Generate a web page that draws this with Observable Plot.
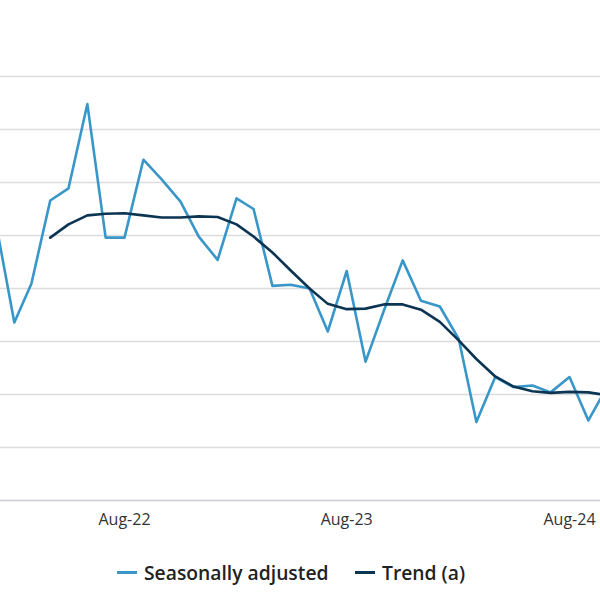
<!DOCTYPE html>
<html>
<head>
<meta charset="utf-8">
<script src="https://cdn.jsdelivr.net/npm/d3@7"></script>
<script src="https://cdn.jsdelivr.net/npm/@observablehq/plot@0.6"></script>
<style>
  html, body { margin: 0; padding: 0; background: #fff; }
  body { width: 600px; height: 600px; overflow: hidden; font-family: "Open Sans", sans-serif; }
  #legend { position: relative; height: 50px; font-size: 19.3px; font-weight: 600; color: #222; }
  .item { position: absolute; top: 14px; display: flex; align-items: center; white-space: nowrap; }
  .sw { display: inline-block; width: 20px; height: 3px; margin-right: 7px; }
</style>
</head>
<body>
<div id="chart"></div>
<div id="legend">
  <div class="item" style="left:117px"><span class="sw" style="background:#3896c8"></span>Seasonally adjusted</div>
  <div class="item" style="left:355px"><span class="sw" style="background:#0b3553"></span>Trend (a)</div>
</div>
<script>
const months = [
  "2022-01","2022-02","2022-03","2022-04","2022-05","2022-06","2022-07","2022-08","2022-09","2022-10","2022-11","2022-12",
  "2023-01","2023-02","2023-03","2023-04","2023-05","2023-06","2023-07","2023-08","2023-09","2023-10","2023-11","2023-12",
  "2024-01","2024-02","2024-03","2024-04","2024-05","2024-06","2024-07","2024-08","2024-09","2024-10"
];
const seasonallyAdjusted = [
  5.28,3.36,4.09,5.66,5.89,7.48,4.96,4.96,6.43,6.06,5.64,4.98,
  4.54,5.70,5.50,4.05,4.07,4.00,3.19,4.33,2.62,3.58,4.53,3.77,
  3.66,3.05,1.48,2.33,2.14,2.17,2.04,2.33,1.51,2.13
];
const trend = [
  null,null,null,4.96,5.21,5.38,5.41,5.42,5.38,5.34,5.34,5.36,
  5.35,5.21,4.98,4.68,4.34,4.00,3.71,3.61,3.62,3.70,3.70,3.60,
  3.37,3.02,2.67,2.34,2.15,2.06,2.03,2.05,2.04,1.99
];
const xTicks = ["2022-08","2023-08","2024-08"];
const yGrid = [1,2,3,4,5,6,7,8];

const parse = s => new Date(s + "-01T00:00:00Z");
const sa = months.map((m, i) => ({date: parse(m), value: seasonallyAdjusted[i]}));
const tr = months.map((m, i) => ({date: parse(m), value: trend[i]})).filter(d => d.value != null);

const chart = Plot.plot({
  width: 600,
  height: 545,
  marginLeft: 0,
  marginRight: 0,
  marginTop: 76,
  marginBottom: 45,
  style: {fontFamily: "Open Sans, sans-serif", fontSize: "16px", color: "#333", background: "#fff"},
  x: {type: "utc", domain: [new Date(Date.UTC(2022,0,9,7)), new Date(Date.UTC(2024,8,20,22))], range: [0, 600]},
  y: {domain: [0, 8]},
  marks: [
    Plot.gridY(yGrid, {stroke: "#dcdcdc", strokeOpacity: 1, strokeWidth: 1.3}),
    Plot.ruleY([0], {stroke: "#c9ccd1", strokeWidth: 1.5}),
    Plot.axisX(xTicks.map(parse), {tickSize: 0, tickPadding: 13, tickFormat: d3.utcFormat("%b-%y"), label: null, fill: "#333"}),
    Plot.axisY({ticks: [], label: null}),
    Plot.line(sa, {x: "date", y: "value", stroke: "#3896c8", strokeWidth: 2.6, clip: true}),
    Plot.line(tr, {x: "date", y: "value", stroke: "#0b3553", strokeWidth: 2.6, clip: true})
  ]
});
document.getElementById("chart").appendChild(chart);
</script>
</body>
</html>
